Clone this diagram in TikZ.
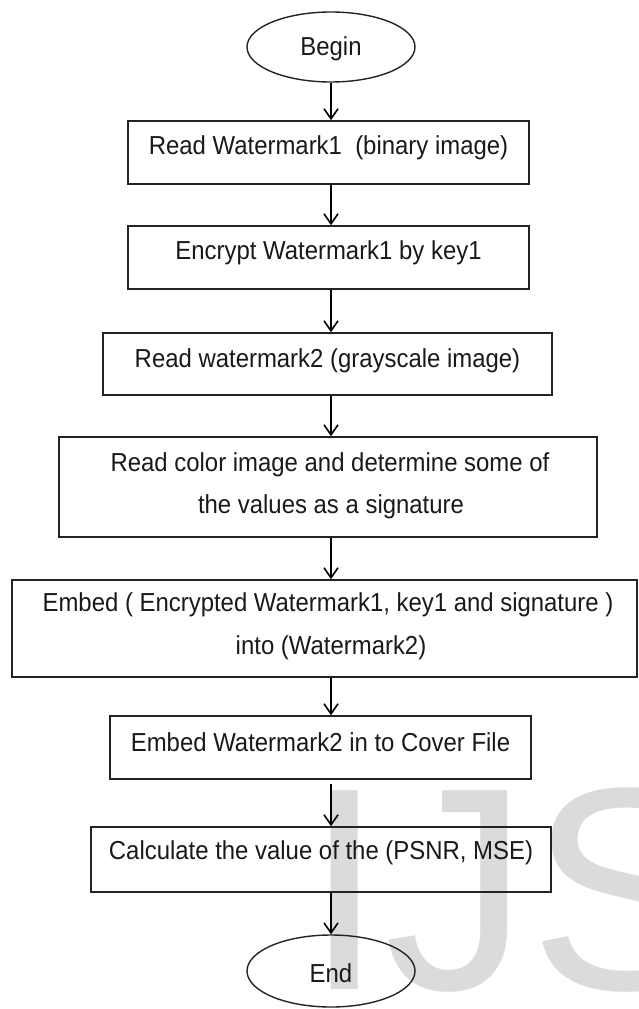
\documentclass[tikz,border=0pt]{standalone}
\usepackage{fontspec}
\setmainfont{Liberation Sans}[FakeStretch=0.92]
\newfontfamily\wmfont{Liberation Sans}
\usetikzlibrary{shapes.geometric,arrows.meta,calc}
\definecolor{wmgray}{RGB}{219,219,219}
\definecolor{linecol}{RGB}{35,35,35}
\begin{document}
\begin{tikzpicture}[x=1pt,y=-1pt,
  box/.style={draw=linecol, line width=1.6pt, rectangle, inner sep=0pt},
  term/.style={draw=linecol, line width=1.4pt, ellipse, inner sep=0pt, minimum width=168pt, minimum height=70pt},
  txt/.style={anchor=base, inner sep=0pt, text=black!90, font=\fontsize{26}{31}\selectfont},
  arr/.style={draw=black, line width=1.6pt, -{Straight Barb[length=10pt,width=14pt,line width=1.6pt]}}]
\useasboundingbox (0,0) rectangle (639,1009);
% watermark
\begin{scope}
\clip (0,0) rectangle (639,1009);
\node[anchor=base west, inner sep=0pt, text=wmgray, font=\wmfont\fontsize{289}{289}\selectfont] (wm) at (304,989) {IJS};
\end{scope}
% terminals
\node[term] (begin) at (331,47) {};
\node[txt] (tbegin) at (331,55) {Begin};
\node[term, minimum height=72pt] (end) at (331,971) {};
\node[txt] (tend) at (331,982) {End};
% boxes
\node[box, minimum width=401pt, minimum height=63pt] (b1) at (328.5,152.5) {};
\node[txt] (t1) at (328.5,154) {Read Watermark1 \ (binary image)};
\node[box, minimum width=401pt, minimum height=63pt] (b2) at (328.5,257.5) {};
\node[txt] (t2) at (328.5,259) {Encrypt Watermark1 by key1};
\node[box, minimum width=449pt, minimum height=62pt] (b3) at (327.5,364) {};
\node[txt] (t3) at (327.5,367) {Read watermark2 (grayscale image)};
\node[box, minimum width=538pt, minimum height=100pt] (b4) at (328,487) {};
\node[txt] (t4a) at (330,471) {Read color image and determine some of};
\node[txt] (t4b) at (331,513) {the values as a signature};
\node[box, minimum width=625pt, minimum height=97pt] (b5) at (324.5,628.5) {};
\node[txt] (t5a) at (328,611) {Embed ( Encrypted Watermark1, key1 and signature )};
\node[txt] (t5b) at (331,654) {into (Watermark2)};
\node[box, minimum width=421pt, minimum height=63pt] (b6) at (320.5,747.5) {};
\node[txt] (t6) at (320.5,751) {Embed Watermark2 in to Cover File};
\node[box, minimum width=460pt, minimum height=65pt] (b7) at (321,859.5) {};
\node[txt] (t7) at (321,859) {Calculate the value of the (PSNR, MSE)};
% connectors
\draw[arr] (begin.south) -- (b1.north -| begin.south);
\draw[arr] (b1.south -| begin.south) -- (b2.north -| begin.south);
\draw[arr] (b2.south -| begin.south) -- (b3.north -| begin.south);
\draw[arr] (b3.south -| begin.south) -- (b4.north -| begin.south);
\draw[arr] (b4.south -| begin.south) -- (b5.north -| begin.south);
\draw[arr] (b5.south -| begin.south) -- (b6.north -| begin.south);
\draw[arr, shorten <=4pt] (b6.south -| begin.south) -- (b7.north -| begin.south);
\draw[arr] (b7.south -| begin.south) -- (end.north);
\end{tikzpicture}
\end{document}
